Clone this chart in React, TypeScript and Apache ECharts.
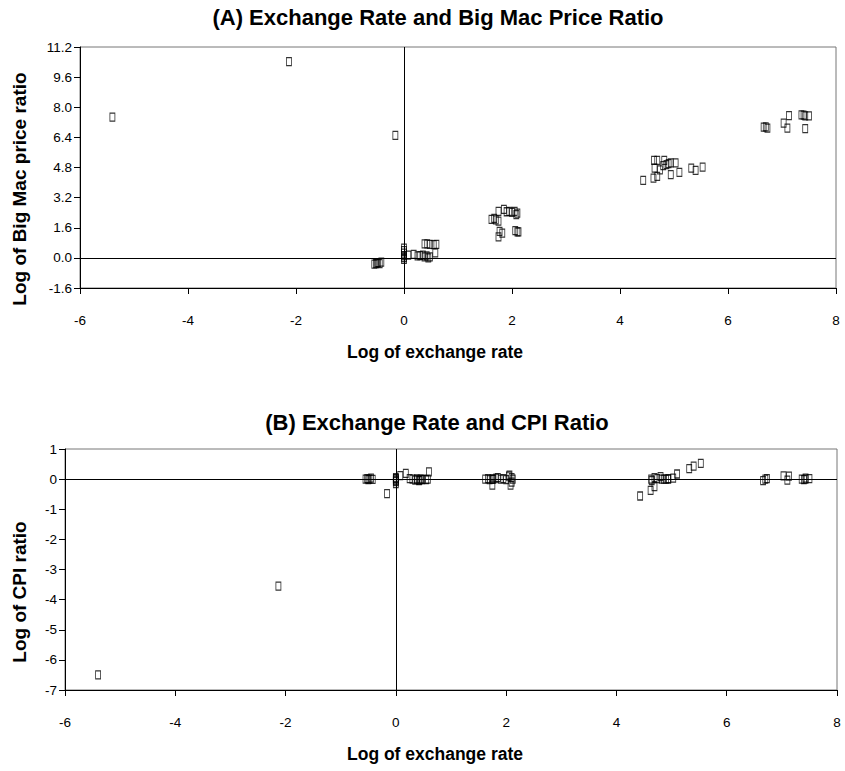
import React, { useEffect, useRef } from "react";
import * as echarts from "echarts";

// Log of exchange rate (shared by both panels)
const exchangeRate = [
  -5.4, -2.13, -0.16,
  -0.55, -0.52, -0.5, -0.48, -0.45, -0.42,
  0.0, 0.0, 0.0, 0.0, 0.0, 0.0,
  0.08, 0.18, 0.25, 0.3, 0.35, 0.38, 0.42, 0.45, 0.48,
  0.38, 0.43, 0.48, 0.55, 0.6, 0.58,
  1.62, 1.67, 1.7, 1.75, 1.75, 1.77, 1.82, 1.85, 1.9, 1.95, 2.0, 2.05, 2.08, 2.1, 2.1, 2.12, 2.06, 1.75,
  4.43, 4.62, 4.69, 4.63, 4.69, 4.82, 4.64, 4.74, 4.86, 4.94, 5.03, 4.94, 5.1, 5.32, 5.4, 5.53, 4.8, 4.9,
  6.66, 6.7, 6.73, 7.03, 7.1, 7.13, 7.36, 7.4, 7.43, 7.5, 7.43,
];

// Panel A: log of Big Mac price ratio
const bigMacRatio = [
  7.47, 10.42, 6.5,
  -0.33, -0.3, -0.27, -0.25, -0.3, -0.22,
  0.52, 0.38, 0.25, 0.12, 0.02, -0.08,
  0.15, 0.18, 0.1, 0.12, 0.15, 0.05, 0.1, 0.0, 0.05,
  0.74, 0.74, 0.72, 0.7, 0.72, 0.27,
  2.05, 2.1, 2.02, 1.95, 2.47, 1.41, 1.32, 2.58, 2.45, 2.47, 2.42, 2.47, 2.3, 2.38, 1.38, 1.38, 1.45, 1.11,
  4.12, 4.24, 4.33, 5.18, 5.18, 5.18, 4.77, 4.68, 4.95, 5.04, 5.04, 4.42, 4.54, 4.77, 4.65, 4.82, 4.9, 5.0,
  6.94, 6.96, 6.89, 7.16, 6.89, 7.56, 7.6, 7.58, 7.54, 7.54, 6.86,
];

// Panel B: log of CPI ratio
const cpiRatio = [
  -6.5, -3.55, -0.48,
  0.0, 0.02, -0.02, 0.0, 0.03, -0.01,
  -0.15, -0.08, 0.0, 0.02, -0.05, 0.05,
  0.12, 0.19, 0.02, 0.0, -0.03, 0.0, -0.05, 0.0, -0.02,
  0.0, -0.03, 0.0, -0.02, 0.24, 0.0,
  0.0, 0.02, -0.02, -0.2, 0.0, 0.0, 0.03, 0.05, 0.0, 0.02, -0.02, 0.1, -0.2, 0.05, -0.1, 0.0, 0.13, 0.0,
  -0.56, -0.37, -0.25, 0.0, 0.05, 0.0, -0.05, 0.02, 0.0, 0.02, 0.03, 0.0, 0.17, 0.35, 0.43, 0.52, 0.08, 0.0,
  -0.05, 0.0, 0.02, 0.11, -0.03, 0.1, 0.0, -0.02, 0.0, 0.02, 0.03,
];

const titleA = "(A) Exchange Rate and Big Mac Price Ratio";
const titleB = "(B) Exchange Rate and CPI Ratio";
const xName = "Log of exchange rate";
const yNameA = "Log of Big Mac price ratio";
const yNameB = "Log of CPI ratio";

const SANS = "'Liberation Sans', Arial, Helvetica, sans-serif";

export default function App() {
  const ref = useRef<HTMLDivElement>(null);
  useEffect(() => {
    if (!ref.current) return;
    const chart = echarts.init(ref.current, null, { renderer: "svg" });

    const xAxisBase = (gridIndex: number) => ({
      type: "value",
      gridIndex,
      min: -6,
      max: 8,
      interval: 2,
      splitLine: { show: false },
      axisLine: { show: true, onZero: false, lineStyle: { color: "#000", width: 1 } },
      axisTick: { show: true, length: 6, lineStyle: { color: "#000" } },
      axisLabel: { color: "#000", fontFamily: SANS, fontSize: 13.5, margin: 25 },
    });

    const markZero = {
      silent: true,
      symbol: ["none", "none"],
      label: { show: false },
      lineStyle: { color: "#000", width: 1, type: "solid" },
      data: [{ xAxis: 0 }, { yAxis: 0 }],
    };

    const symStyle = {
      color: "rgba(0,0,0,0)",
      borderColor: "#000",
      borderWidth: 1,
    };

    const titleStyle = { fontFamily: SANS, fontSize: 22, fontWeight: "bold", color: "#000" };
    const axisTitleStyle = { fontFamily: SANS, fontWeight: "bold", fill: "#000", textAlign: "center", textVerticalAlign: "middle" };

    const option = {
      animation: false,
      backgroundColor: "#fff",
      title: [
        { text: titleA, left: 438, top: 6, textAlign: "center", padding: 0, textStyle: titleStyle },
        { text: titleB, left: 437, top: 411, textAlign: "center", padding: 0, textStyle: titleStyle },
      ],
      grid: [
        { left: 80, right: 9, top: 47, height: 241, show: true, borderColor: "#777", borderWidth: 1, backgroundColor: "rgba(0,0,0,0)" },
        { left: 65, right: 8, top: 449, height: 241, show: true, borderColor: "#777", borderWidth: 1, backgroundColor: "rgba(0,0,0,0)" },
      ],
      xAxis: [xAxisBase(0), xAxisBase(1)],
      yAxis: [
        {
          type: "value",
          gridIndex: 0,
          min: -1.6,
          max: 11.2,
          interval: 1.6,
          splitLine: { show: false },
          axisLine: { show: true, onZero: false, lineStyle: { color: "#000", width: 1 } },
          axisTick: { show: true, length: 6, lineStyle: { color: "#000" } },
          axisLabel: {
            color: "#000",
            fontFamily: SANS,
            fontSize: 13.5,
            margin: 8,
            formatter: (v: number) => v.toFixed(1),
          },
        },
        {
          type: "value",
          gridIndex: 1,
          min: -7,
          max: 1,
          interval: 1,
          splitLine: { show: false },
          axisLine: { show: true, onZero: false, lineStyle: { color: "#000", width: 1 } },
          axisTick: { show: true, length: 6, lineStyle: { color: "#000" } },
          axisLabel: { color: "#000", fontFamily: SANS, fontSize: 13.5, margin: 8 },
        },
      ],
      graphic: [
        { type: "text", x: 435, y: 352, style: { ...axisTitleStyle, text: xName, fontSize: 17.5 } },
        { type: "text", x: 435, y: 754, style: { ...axisTitleStyle, text: xName, fontSize: 17.5 } },
        { type: "text", x: 19, y: 189, rotation: Math.PI / 2, style: { ...axisTitleStyle, text: yNameA, fontSize: 19 } },
        { type: "text", x: 19, y: 592, rotation: Math.PI / 2, style: { ...axisTitleStyle, text: yNameB, fontSize: 19 } },
      ],
      series: [
        {
          type: "scatter",
          xAxisIndex: 0,
          yAxisIndex: 0,
          symbol: "rect",
          symbolSize: [5, 8],
          itemStyle: symStyle,
          data: exchangeRate.map((x, i) => [x, bigMacRatio[i]]),
          markLine: markZero,
        },
        {
          type: "scatter",
          xAxisIndex: 1,
          yAxisIndex: 1,
          symbol: "rect",
          symbolSize: [5, 8],
          itemStyle: symStyle,
          data: exchangeRate.map((x, i) => [x, cpiRatio[i]]),
          markLine: markZero,
        },
      ],
    };

    chart.setOption(option as any);
    return () => chart.dispose();
  }, []);

  return (
    <div
      ref={ref}
      style={{ position: "fixed", left: 0, top: 0, width: 845, height: 771, background: "#fff" }}
    />
  );
}
